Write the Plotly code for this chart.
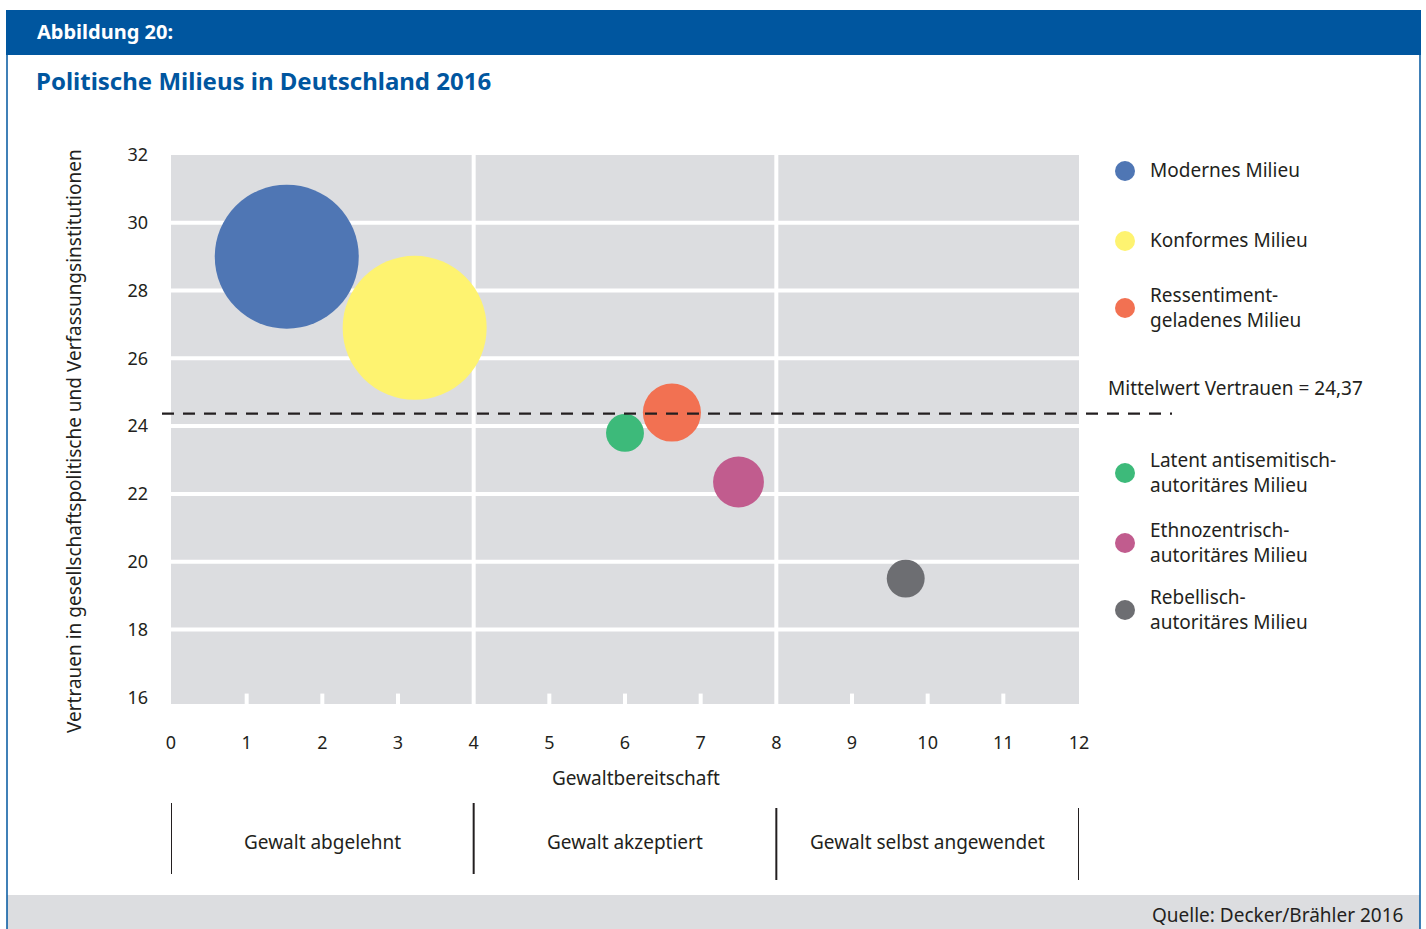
import plotly.graph_objects as go

W, H = 1426, 929

# ---------------- data ----------------
milieus = ["Modernes Milieu", "Konformes Milieu", "Ressentiment-<br>geladenes Milieu",
           "Latent antisemitisch-<br>autoritäres Milieu", "Ethnozentrisch-<br>autoritäres Milieu",
           "Rebellisch-<br>autoritäres Milieu"]
gewalt = [1.53, 3.22, 6.62, 6.0, 7.5, 9.71]          # Gewaltbereitschaft
vertrauen = [29.0, 26.9, 24.4, 23.8, 22.35, 19.5]     # Vertrauen
groesse = [30.0, 30.0, 12.1, 7.9, 10.6, 7.9]          # relative bubble size
farben = ["#4f76b4", "#fef370", "#f27152", "#3dba7a", "#c15c8e", "#6d6e72"]
mittelwert = 24.37
x_ticks = list(range(0, 13))
y_ticks = list(range(16, 33, 2))
bereiche = ["Gewalt abgelehnt", "Gewalt akzeptiert", "Gewalt selbst angewendet"]
grenzen = [0, 4, 8, 12]

TXT = "#231f20"
BLUE = "#00569f"
GRAY = "#dcdde0"
FONT = "Noto Sans"


def px(x):
    return x / W


def py(y):
    return 1 - y / H


fig = go.Figure()
fig.add_trace(go.Scatter(
    x=gewalt, y=vertrauen, mode="markers",
    marker=dict(size=groesse, sizemode="diameter", sizeref=30 / 144,
                color=farben, opacity=1, line=dict(width=0)),
    text=[m.replace("<br>", "") for m in milieus], hoverinfo="text",
    showlegend=False, cliponaxis=False))

shapes = []
ann = []

# header bar, footer band and frame
shapes.append(dict(type="rect", xref="paper", yref="paper", x0=px(6), x1=px(1421),
                   y0=py(55), y1=py(10), fillcolor=BLUE, line=dict(width=0), layer="below"))
shapes.append(dict(type="rect", xref="paper", yref="paper", x0=px(7), x1=px(1420),
                   y0=py(930), y1=py(895), fillcolor=GRAY, line=dict(width=0), layer="below"))
for xx in (7, 1420):
    shapes.append(dict(type="line", xref="paper", yref="paper", x0=px(xx), x1=px(xx),
                       y0=py(930), y1=py(54), line=dict(color=BLUE, width=1.5)))

# horizontal white gridlines
for v in y_ticks[1:-1]:
    shapes.append(dict(type="line", xref="x domain", yref="y", x0=0, x1=1, y0=v, y1=v,
                       line=dict(color="white", width=4), layer="below"))
# vertical white gridlines at the region borders
for g in grenzen[1:-1]:
    shapes.append(dict(type="line", xref="x", yref="y domain", x0=g, x1=g, y0=0, y1=1,
                       line=dict(color="white", width=4), layer="below"))
# small white tick marks at bottom
for t in x_ticks:
    if t not in grenzen:
        shapes.append(dict(type="line", xref="x", yref="y domain", x0=t, x1=t, y0=0, y1=0.019,
                           line=dict(color="white", width=4), layer="below"))

# mean line
shapes.append(dict(type="line", xref="paper", yref="y", x0=px(162), x1=px(1172),
                   y0=mittelwert, y1=mittelwert, line=dict(color=TXT, width=2.2, dash="12px,9px")))

# region brackets below
for i, g in enumerate(grenzen):
    top, bot = (803, 874) if i < 2 else (808, 880)
    shapes.append(dict(type="line", xref="x", yref="paper", x0=g, x1=g, y0=py(bot), y1=py(top),
                       line=dict(color=TXT, width=2)))
for i, b in enumerate(bereiche):
    ann.append(dict(text=b, x=(grenzen[i] + grenzen[i + 1]) / 2, y=py(842), xref="x", yref="paper",
                    showarrow=False, font=dict(size=19, color=TXT, family=FONT),
                    xanchor="center", yanchor="middle"))

# legend (manual)
leg_dot_y = [171, 241, 308, 473, 543, 610]
for m, c, yy in zip(milieus, farben, leg_dot_y):
    r = 10
    shapes.append(dict(type="circle", xref="paper", yref="paper", x0=px(1125 - r), x1=px(1125 + r),
                       y0=py(yy + r), y1=py(yy - r), fillcolor=c, line=dict(width=0)))
    ann.append(dict(text=m, x=px(1148), y=py(yy - 1), xref="paper", yref="paper", showarrow=False,
                    align="left", xanchor="left", yanchor="middle",
                    font=dict(size=19, color=TXT, family=FONT)))
ann.append(dict(text="Mittelwert Vertrauen = " + f"{mittelwert:.2f}".replace(".", ","),
                x=px(1106), y=py(388), xref="paper", yref="paper", showarrow=False,
                xanchor="left", yanchor="middle", font=dict(size=19, color=TXT, family=FONT)))

# titles
ann.append(dict(text="<b>Abbildung 20:</b>", x=px(35), y=py(32), xref="paper", yref="paper",
                showarrow=False, xanchor="left", yanchor="middle",
                font=dict(size=20, color="white", family=FONT)))
ann.append(dict(text="<b>Politische Milieus in Deutschland 2016</b>", x=px(34), y=py(80),
                xref="paper", yref="paper", showarrow=False, xanchor="left", yanchor="middle",
                font=dict(size=24, color=BLUE, family=FONT)))
ann.append(dict(text="Vertrauen in gesellschaftspolitische und Verfassungsinstitutionen",
                x=px(74), y=py(441), xref="paper", yref="paper", showarrow=False, textangle=-90,
                xanchor="center", yanchor="middle", font=dict(size=19, color=TXT, family=FONT)))
ann.append(dict(text="Gewaltbereitschaft", x=px(636), y=py(778), xref="paper", yref="paper",
                showarrow=False, xanchor="center", yanchor="middle",
                font=dict(size=19, color=TXT, family=FONT)))
ann.append(dict(text="Quelle: Decker/Brähler 2016", x=px(1405), y=py(915), xref="paper",
                yref="paper", showarrow=False, xanchor="right", yanchor="middle",
                font=dict(size=19, color=TXT, family=FONT)))

fig.update_layout(
    template="none",
    width=W, height=H, autosize=False, margin=dict(l=0, r=0, t=0, b=0, pad=0, autoexpand=False),
    paper_bgcolor="white", plot_bgcolor=GRAY,
    font=dict(family=FONT, color=TXT, size=18),
    shapes=shapes, annotations=ann, showlegend=False,
    xaxis=dict(domain=[px(171), px(1079)], range=[0, 12], tickvals=x_ticks, automargin=False,
               showgrid=False, zeroline=False, showline=False, ticks="",
               ticklabelstandoff=26, tickfont=dict(size=18, color=TXT), fixedrange=True),
    yaxis=dict(domain=[py(704), py(155)], range=[15.8, 32.0], tickvals=y_ticks, automargin=False,
               showgrid=False, zeroline=False, showline=False, ticks="",
               ticklabelstandoff=22, tickfont=dict(size=18, color=TXT), fixedrange=True),
)

fig.write_html("out.html", config={"displayModeBar": False},
               post_script="document.body.style.margin='0px';document.body.style.overflow='hidden';")
